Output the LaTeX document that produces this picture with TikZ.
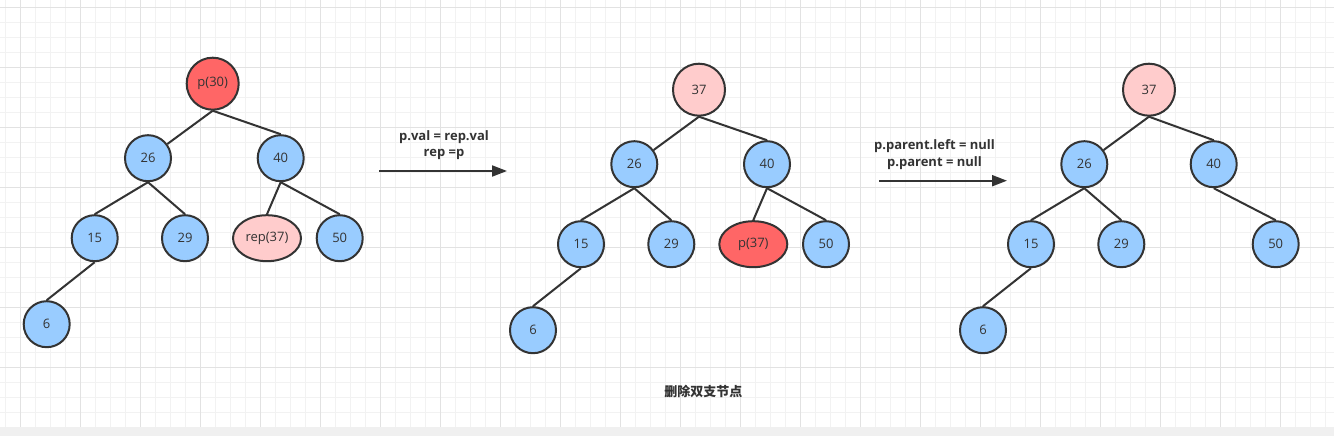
\documentclass[tikz,border=0pt]{standalone}
\usepackage{fontspec}
\setmainfont{Open Sans}
\newfontfamily\cjkfont{Noto Sans CJK SC}
\usetikzlibrary{arrows.meta, shapes.geometric, positioning}
\definecolor{ink}{HTML}{333333}
\definecolor{nodeblue}{HTML}{99CCFF}
\definecolor{nodered}{HTML}{FF6666}
\definecolor{nodepink}{HTML}{FFCCCC}
\definecolor{gridminor}{HTML}{F2F2F2}
\definecolor{gridmajor}{HTML}{E2E2E2}
\definecolor{band}{HTML}{F0F0F0}
\tikzset{
	line width = 2pt,
	>={Triangle[length=15pt,width=11pt]},
	font = \fontsize{13}{15}\selectfont,
	vertex/.style={
		draw=ink,
		circle,
		line width=2pt,
		fill=nodeblue,
		text=ink,
		minimum size=46pt,
		inner sep=0pt,
		on grid
	},
	rootvertex/.style={vertex, minimum size=52pt},
	oval/.style={vertex, ellipse, minimum width=68pt, minimum height=46pt},
	hot/.style={fill=nodered},
	soft/.style={fill=nodepink},
	link/.style={
		draw=ink,
		line width=2pt
	},
	move/.style={
		->,
		draw=ink,
		line width=2pt
	},
	note/.style={
		text=ink,
		align=center,
		font=\fontsize{13}{16.5}\selectfont\bfseries
	},
	minorline/.style={draw=gridminor, line width=1pt},
	majorline/.style={draw=gridmajor, line width=1pt}
}

\begin{document}
\begin{tikzpicture}[x=1pt, y=-1pt]
	\useasboundingbox (0,0) rectangle (1334,436);
	\fill[white] (0,0) rectangle (1334,427);
	\fill[band] (0,427) rectangle (1334,436);

	% background grid
	\foreach \gx in {5.5,20.5,...,1334} \draw[minorline] (\gx,0) -- (\gx,427);
	\foreach \gy in {7.3,22.3,...,427} \draw[minorline] (0,\gy) -- (1334,\gy);
	\foreach \gx in {20.5,80.5,...,1334} \draw[majorline] (\gx,0) -- (\gx,427);
	\foreach \gy in {7.3,67.3,...,427} \draw[majorline] (0,\gy) -- (1334,\gy);

	% before
	\node[rootvertex, hot] at (212.7,83.7) (a30) {p(30)};
	\node[vertex, below left=74.5pt and 64.7pt of a30] (a26) {26};
	\node[vertex, below right=74.5pt and 68pt of a30] (a40) {40};
	\node[vertex, below left=80pt and 53.3pt of a26] (a15) {15};
	\node[vertex, below right=80pt and 37pt of a26] (a29) {29};
	\node[oval, soft, below left=80pt and 13.7pt of a40] (arep) {rep(37)};
	\node[vertex, below right=80pt and 59pt of a40] (a50) {50};
	\node[vertex, below left=86pt and 48pt of a15] (a6) {6};

	\draw[link] (a30.south) -- (a26);
	\draw[link] (a30.south) -- (a40.north);
	\draw[link] (a26.south) -- (a15.north);
	\draw[link] (a26.south) -- (a29.north);
	\draw[link] (a40.south) -- (arep.north);
	\draw[link] (a40.south) -- (a50.north);
	\draw[link] (a15.south) -- (a6.north);

	% copy value
	\coordinate (m1s) at (379,171);
	\coordinate (m1e) at (507,171);
	\draw[move] (m1s) -- (m1e);
	\node[note] at (444,145) (m1) {p.val = rep.val\\rep =p};

	% after copy
	\node[rootvertex, soft] at (699,89.7) (b37) {37};
	\node[vertex, below left=74.5pt and 64.7pt of b37] (b26) {26};
	\node[vertex, below right=74.5pt and 68pt of b37] (b40) {40};
	\node[vertex, below left=80pt and 53.3pt of b26] (b15) {15};
	\node[vertex, below right=80pt and 37pt of b26] (b29) {29};
	\node[oval, hot, below left=80pt and 13.7pt of b40] (bp) {p(37)};
	\node[vertex, below right=80pt and 59pt of b40] (b50) {50};
	\node[vertex, below left=86pt and 48pt of b15] (b6) {6};

	\draw[link] (b37.south) -- (b26);
	\draw[link] (b37.south) -- (b40.north);
	\draw[link] (b26.south) -- (b15.north);
	\draw[link] (b26.south) -- (b29.north);
	\draw[link] (b40.south) -- (bp.north);
	\draw[link] (b40.south) -- (b50.north);
	\draw[link] (b15.south) -- (b6.north);

	% unlink
	\coordinate (m2s) at (879,180.7);
	\coordinate (m2e) at (1007,180.7);
	\draw[move] (m2s) -- (m2e);
	\node[note] at (934.5,154.5) (m2) {p.parent.left = null\\p.parent = null};

	% after delete
	\node[rootvertex, soft] at (1149,89.7) (c37) {37};
	\node[vertex, below left=74.5pt and 64.7pt of c37] (c26) {26};
	\node[vertex, below right=74.5pt and 64.7pt of c37] (c40) {40};
	\node[vertex, below left=80pt and 53.3pt of c26] (c15) {15};
	\node[vertex, below right=80pt and 37pt of c26] (c29) {29};
	\node[vertex, below right=80pt and 62pt of c40] (c50) {50};
	\node[vertex, below left=86pt and 48pt of c15] (c6) {6};

	\draw[link] (c37.south) -- (c26);
	\draw[link] (c37.south) -- (c40.north);
	\draw[link] (c26.south) -- (c15.north);
	\draw[link] (c26.south) -- (c29.north);
	\draw[link] (c40.south) -- (c50.north);
	\draw[link] (c15.south) -- (c6.north);

	\node[text=ink, font=\fontsize{13}{15}\selectfont\cjkfont\bfseries] at (703.3,391.7) (title) {删除双支节点};
\end{tikzpicture}
\end{document}
